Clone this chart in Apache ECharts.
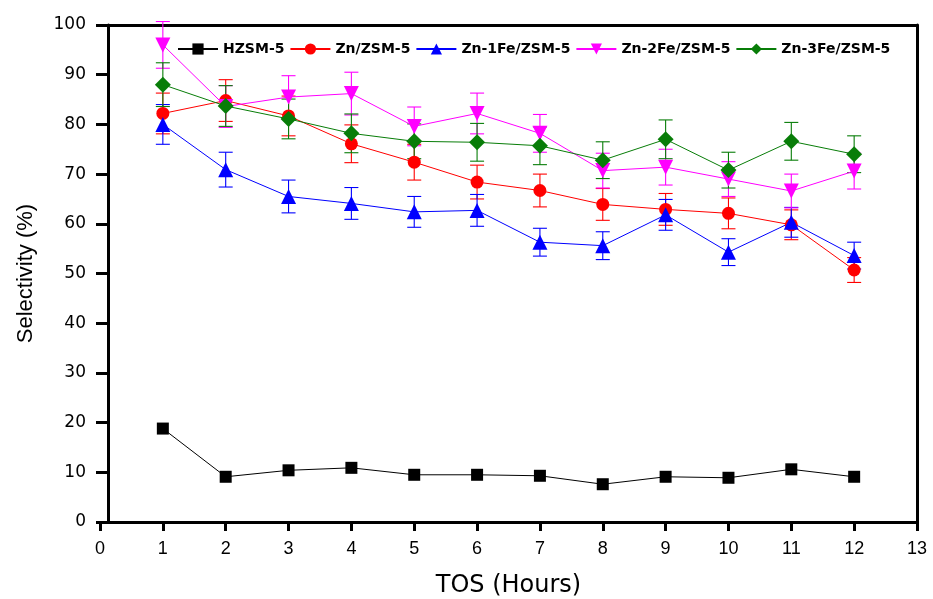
<!DOCTYPE html>
<html>
<head>
<meta charset="utf-8">
<script src="https://cdn.jsdelivr.net/npm/echarts@6/dist/echarts.min.js"></script>
<style>
  html, body { margin: 0; padding: 0; background: #fff; }
  #chart { width: 933px; height: 599px; }
</style>
</head>
<body>
<div id="chart"></div>
<script>
// Time on stream (hours)
const tos = [1, 2, 3, 4, 5, 6, 7, 8, 9, 10, 11, 12];

// Selectivity (%) per catalyst
const hzsm5    = [18.8, 9.1, 10.4, 10.9, 9.5, 9.5, 9.3, 7.6, 9.1, 8.9, 10.6, 9.1];
const znZsm5   = [82.2, 84.8, 81.7, 76.1, 72.4, 68.4, 66.7, 63.9, 62.9, 62.1, 59.8, 50.7];
const zn1Fe    = [80.0, 70.9, 65.5, 64.1, 62.4, 62.7, 56.3, 55.6, 61.8, 54.3, 60.3, 53.6];
const zn2Fe    = [96.0, 83.6, 85.5, 86.2, 79.6, 82.2, 78.2, 70.7, 71.4, 69.0, 66.6, 70.6];
const zn3Fe    = [88.0, 83.7, 81.1, 78.2, 76.6, 76.4, 75.7, 72.8, 77.0, 70.8, 76.6, 74.0];

// Standard deviations (error bar half-widths)
const znZsm5Err = [4.1, 4.2, 4.0, 3.8, 3.6, 3.4, 3.3, 3.2, 3.2, 3.1, 3.0, 2.5];
const zn1FeErr  = [4.0, 3.5, 3.3, 3.2, 3.1, 3.2, 2.8, 2.8, 3.1, 2.7, 3.0, 2.7];
const zn2FeErr  = [4.7, 4.2, 4.3, 4.3, 3.9, 4.1, 3.8, 3.5, 3.6, 3.5, 3.4, 3.6];
const zn3FeErr  = [4.4, 4.1, 4.0, 3.9, 3.5, 3.8, 3.8, 3.7, 3.9, 3.6, 3.8, 3.7];

const names = ['HZSM-5', 'Zn/ZSM-5', 'Zn-1Fe/ZSM-5', 'Zn-2Fe/ZSM-5', 'Zn-3Fe/ZSM-5'];
const colors = ['#000000', '#ff0000', '#0000ff', '#ff00ff', '#087d08'];

const SANS = '"Liberation Sans", Arial, sans-serif';
const WIDE = '"DejaVu Sans", sans-serif';

function pairs(ys) { return tos.map((x, i) => [x, ys[i]]); }

function errorSeries(name, ys, errs, color) {
  return {
    type: 'custom',
    name: name + ' err',
    z: 1,
    clip: false,
    data: tos.map((x, i) => [x, ys[i] - errs[i], ys[i] + errs[i]]),
    encode: { x: 0, y: [1, 2] },
    renderItem: function (params, api) {
      const lo = api.coord([api.value(0), api.value(1)]);
      const hi = api.coord([api.value(0), api.value(2)]);
      const hw = 7;
      const style = { stroke: color, lineWidth: 1.1 };
      return {
        type: 'group',
        children: [
          { type: 'line', shape: { x1: hi[0], y1: hi[1], x2: lo[0], y2: lo[1] }, style },
          { type: 'line', shape: { x1: hi[0] - hw, y1: hi[1], x2: hi[0] + hw, y2: hi[1] }, style },
          { type: 'line', shape: { x1: lo[0] - hw, y1: lo[1], x2: lo[0] + hw, y2: lo[1] }, style }
        ]
      };
    }
  };
}

function lineSeries(name, ys, color, symbol, size, rotate) {
  return {
    type: 'line',
    name: name,
    data: pairs(ys),
    z: 3,
    symbol: symbol,
    symbolSize: size,
    symbolRotate: rotate || 0,
    showAllSymbol: true,
    lineStyle: { color: color, width: 1 },
    itemStyle: { color: color, borderWidth: 0 },
    emphasis: { disabled: true }
  };
}

const frameLine = { show: true, onZero: false, lineStyle: { color: '#000', width: 3 } };

const chart = echarts.init(document.getElementById('chart'), null, { renderer: 'canvas' });

chart.setOption({
  animation: false,
  backgroundColor: '#ffffff',
  grid: { left: 100, right: 16, top: 25, bottom: 77, outerBoundsMode: 'none', containLabel: false },
  legend: {
    data: names,
    top: 37,
    left: 172,
    itemGap: 5,
    itemWidth: 40,
    itemHeight: 14,
    textStyle: { fontFamily: WIDE, fontWeight: 'bold', fontSize: 14, color: '#000' }
  },
  xAxis: [{
    type: 'value',
    position: 'bottom',
    min: 0, max: 13, interval: 1,
    name: 'TOS (Hours)',
    nameLocation: 'middle',
    nameGap: 52,
    nameTextStyle: { fontFamily: WIDE, fontSize: 24, color: '#000' },
    axisLine: frameLine,
    axisTick: { show: true, inside: false, length: 9, lineStyle: { color: '#000', width: 3 } },
    axisLabel: { fontFamily: SANS, fontSize: 18, color: '#000', margin: 18 },
    splitLine: { show: false }
  }, {
    // top edge of the frame
    type: 'value',
    position: 'top',
    min: 0, max: 13,
    axisLine: frameLine,
    axisTick: { show: false },
    axisLabel: { show: false },
    splitLine: { show: false }
  }],
  yAxis: [{
    type: 'value',
    position: 'left',
    offset: -8,
    min: 0, max: 100, interval: 10,
    name: 'Selectivity (%)',
    nameLocation: 'middle',
    nameGap: 71,
    nameTextStyle: { fontFamily: SANS, fontSize: 22, color: '#000' },
    axisLine: frameLine,
    axisTick: { show: true, inside: false, length: 12, lineStyle: { color: '#000', width: 3 } },
    axisLabel: { fontFamily: WIDE, fontSize: 17, color: '#000', margin: 22, padding: [3, 0, 0, 0] },
    splitLine: { show: false }
  }, {
    // right edge of the frame
    type: 'value',
    position: 'right',
    min: 0, max: 100,
    axisLine: frameLine,
    axisTick: { show: false },
    axisLabel: { show: false },
    splitLine: { show: false }
  }],
  series: [
    errorSeries(names[1], znZsm5, znZsm5Err, colors[1]),
    errorSeries(names[2], zn1Fe, zn1FeErr, colors[2]),
    errorSeries(names[3], zn2Fe, zn2FeErr, colors[3]),
    errorSeries(names[4], zn3Fe, zn3FeErr, colors[4]),
    lineSeries(names[0], hzsm5, colors[0], 'rect', 12),
    lineSeries(names[1], znZsm5, colors[1], 'circle', 13),
    lineSeries(names[2], zn1Fe, colors[2], 'triangle', 15),
    lineSeries(names[3], zn2Fe, colors[3], 'triangle', 15, 180),
    lineSeries(names[4], zn3Fe, colors[4], 'diamond', 16)
  ]
});
</script>
</body>
</html>
